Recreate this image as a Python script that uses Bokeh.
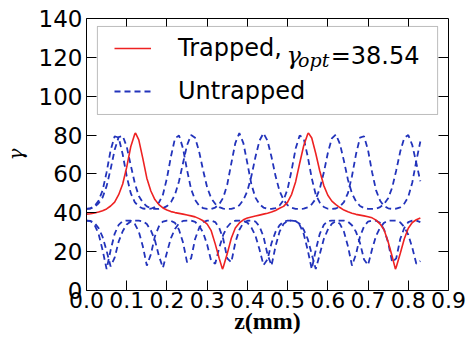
from bokeh.plotting import figure
from bokeh.models import (Range1d, FixedTicker, LinearAxis, Legend, LegendItem, Label,
                          PrintfTickFormatter, BoxAnnotation)
from bokeh.embed import file_html
from bokeh.resources import INLINE

# ---------------- data ----------------
z_grid = [0.00, 0.01, 0.02, 0.03, 0.04, 0.05, 0.06, 0.07, 0.08, 0.09,
          0.10, 0.11, 0.12, 0.13, 0.14, 0.15, 0.16, 0.17, 0.18, 0.19,
          0.20, 0.21, 0.22, 0.23, 0.24, 0.25, 0.26, 0.27, 0.28, 0.29,
          0.30, 0.31, 0.32, 0.33, 0.34, 0.35, 0.36, 0.37, 0.38, 0.39,
          0.40, 0.41, 0.42, 0.43, 0.44, 0.45, 0.46, 0.47, 0.48, 0.49,
          0.50, 0.51, 0.52, 0.53, 0.54, 0.55, 0.56, 0.57, 0.58, 0.59,
          0.60, 0.61, 0.62, 0.63, 0.64, 0.65, 0.66, 0.67, 0.68, 0.69,
          0.70, 0.71, 0.72, 0.73, 0.74, 0.75, 0.76, 0.77, 0.78, 0.79,
          0.80, 0.81, 0.82, 0.83]

untrapped_a = [42.0, 42.3, 43.4, 46.2, 51.5, 60.9, 72.2, 79.4, 78.7, 70.1,
               58.8, 50.1, 45.5, 43.2, 42.2, 42.0, 42.1, 43.0, 45.2, 49.3,
               57.8, 69.0, 78.3, 79.8, 73.1, 62.0, 52.2, 46.6, 43.7, 42.4,
               42.0, 42.0, 42.7, 44.4, 47.8, 54.6, 65.4, 75.9, 81.0, 75.9,
               65.4, 54.6, 47.8, 44.4, 42.7, 42.0, 42.0, 42.4, 43.7, 46.6,
               52.2, 62.0, 73.1, 79.8, 78.3, 69.0, 57.8, 49.3, 45.2, 43.0,
               42.1, 42.0, 42.2, 43.2, 45.5, 50.1, 58.8, 70.1, 78.7, 79.4,
               72.2, 60.9, 51.5, 46.2, 43.4, 42.3, 42.0, 42.1, 42.8, 44.7,
               48.2, 55.6, 66.7, 76.7]

untrapped_b = [42.0, 42.2, 43.0, 44.9, 47.9, 53.7, 62.5, 72.4, 79.0, 79.6,
               74.0, 64.5, 55.3, 48.6, 45.3, 43.3, 42.3, 42.0, 42.0, 42.4,
               43.4, 45.5, 49.3, 56.2, 65.6, 74.8, 80.0, 78.6, 71.5, 61.8,
               53.0, 47.5, 44.6, 42.9, 42.1, 42.0, 42.0, 42.6, 43.9, 46.6,
               51.2, 58.9, 68.7, 77.1, 81.0, 77.1, 68.7, 58.9, 51.2, 46.6,
               43.9, 42.6, 42.0, 42.0, 42.1, 42.8, 44.4, 47.2, 52.4, 60.7,
               70.8, 78.3, 80.3, 75.5, 66.7, 57.0, 49.9, 45.9, 43.5, 42.4,
               42.0, 42.0, 42.1, 42.9, 44.6, 47.5, 53.0, 61.8, 71.5, 78.6,
               80.0, 74.8, 65.6, 56.2]

untrapped_c = [36.0, 35.8, 34.7, 32.1, 27.6, 20.4, 12.4, 16.9, 25.2, 30.5,
               34.0, 35.5, 36.0, 36.0, 35.6, 34.2, 30.9, 26.0, 17.8, 11.7,
               19.6, 27.0, 31.7, 34.6, 35.8, 36.0, 36.0, 35.3, 33.3, 29.8,
               23.6, 15.2, 13.8, 22.0, 28.7, 32.7, 35.1, 35.9, 36.0, 35.9,
               34.9, 32.4, 28.2, 21.2, 13.1, 16.0, 24.4, 30.2, 33.6, 35.4,
               36.0, 36.0, 35.7, 34.4, 31.3, 26.5, 18.7, 11.0, 18.7, 26.5,
               31.3, 34.4, 35.7, 36.0, 36.0, 35.4, 33.6, 30.2, 24.4, 16.0,
               13.1, 21.2, 28.2, 32.4, 34.9, 35.9, 36.0, 35.9, 35.1, 32.7,
               28.7, 22.0, 13.8, 15.2]

untrapped_d = [36.0, 35.7, 33.8, 29.2, 20.8, 11.0, 20.8, 29.2, 33.8, 35.7,
               36.0, 35.9, 34.3, 30.3, 22.8, 12.8, 18.6, 27.8, 33.0, 35.5,
               36.0, 35.9, 34.8, 31.3, 24.7, 14.5, 16.5, 26.5, 32.2, 35.2,
               36.0, 36.0, 35.2, 32.2, 26.5, 16.5, 14.5, 24.7, 31.3, 34.8,
               35.9, 36.0, 35.5, 33.0, 27.8, 18.6, 12.8, 22.8, 30.3, 34.3,
               35.9, 36.0, 35.7, 33.8, 29.2, 20.8, 11.0, 20.8, 29.2, 33.8,
               35.7, 36.0, 35.9, 34.3, 30.3, 22.8, 12.8, 18.6, 27.8, 33.0,
               35.5, 36.0, 35.9, 34.8, 31.3, 24.7, 14.5, 16.5, 26.5, 32.2,
               35.2, 36.0, 36.0, 35.2]

z_trapped = [0.00, 0.01, 0.02, 0.03, 0.04, 0.05, 0.06, 0.07, 0.08, 0.09,
             0.10, 0.11, 0.12, 0.122, 0.13, 0.14, 0.15, 0.16, 0.17, 0.18, 0.19,
             0.20, 0.21, 0.22, 0.23, 0.24, 0.25, 0.26, 0.27, 0.28, 0.29,
             0.30, 0.31, 0.32, 0.33, 0.338, 0.34, 0.35, 0.36, 0.37, 0.38, 0.39,
             0.40, 0.41, 0.42, 0.43, 0.44, 0.45, 0.46, 0.47, 0.48, 0.49,
             0.50, 0.51, 0.52, 0.53, 0.54, 0.55, 0.552, 0.56, 0.57, 0.58, 0.59,
             0.60, 0.61, 0.62, 0.63, 0.64, 0.65, 0.66, 0.67, 0.68, 0.69,
             0.70, 0.71, 0.72, 0.73, 0.74, 0.75, 0.76, 0.768, 0.77, 0.78, 0.79,
             0.80, 0.81, 0.82, 0.83]
gamma_trapped = [39.3, 39.5, 39.9, 40.4, 41.1, 42.0, 43.5, 45.5, 49.3, 54.8,
                 63.5, 74.0, 80.5, 81.0, 77.5, 68.0, 57.8, 51.2, 46.8, 44.2, 42.5,
                 41.4, 40.6, 40.1, 39.7, 39.3, 38.9, 38.4, 37.9, 37.0, 35.9,
                 34.2, 30.8, 24.0, 16.5, 11.0, 12.0, 19.0, 26.9, 32.2, 34.8, 36.4,
                 37.3, 37.8, 38.3, 38.8, 39.3, 39.8, 40.4, 41.2, 42.3, 43.3,
                 45.5, 49.5, 56.0, 65.5, 74.5, 80.5, 81.0, 78.5, 70.5, 61.5, 54.0,
                 49.0, 46.0, 44.2, 42.7, 41.4, 40.5, 39.8, 39.2, 38.8, 38.4,
                 38.0, 37.4, 36.2, 34.2, 31.2, 25.0, 17.5, 11.0, 12.0, 19.0, 26.5,
                 32.0, 35.0, 36.4, 37.3]

x_ticks = [0.0, 0.1, 0.2, 0.3, 0.4, 0.5, 0.6, 0.7, 0.8, 0.9]
y_ticks = [0, 20, 40, 60, 80, 100, 120, 140]
top_ticks = [0.1, 0.2, 0.3, 0.4, 0.5, 0.6, 0.7, 0.8]
right_ticks = [20, 40, 60, 80, 100, 120]

legend_labels = ["Trapped,", "Untrapped"]

RED = "#ee2222"
BLUE = "#2233bb"

# ---------------- figure ----------------
p = figure(width=470, height=341, x_range=Range1d(0, 0.9), y_range=Range1d(0, 140),
           output_backend="svg", toolbar_location=None,
           min_border_left=83, min_border_right=22, min_border_top=18, min_border_bottom=51,
           x_axis_label="z(mm)", y_axis_label="γ")
p.grid.visible = False
p.outline_line_color = None
p.background_fill_color = "white"
p.border_fill_color = "white"

xa = p.xaxis[0]
xa.ticker = FixedTicker(ticks=x_ticks)
xa.formatter = PrintfTickFormatter(format="%.1f")
xa.major_tick_in = 10
xa.major_tick_out = 0
xa.minor_tick_line_color = None
xa.axis_line_color = "black"
xa.major_tick_line_color = "black"
xa.major_label_text_font = "DejaVu Sans"
xa.major_label_text_font_size = "22px"
xa.major_label_text_color = "black"
xa.major_label_standoff = 1
xa.axis_label_text_font = "Liberation Serif"
xa.axis_label_text_font_style = "bold"
xa.axis_label_text_font_size = "24px"
xa.axis_label_text_color = "black"
xa.axis_label_standoff = -3

ya = p.yaxis[0]
ya.ticker = FixedTicker(ticks=y_ticks)
ya.formatter = PrintfTickFormatter(format="%d")
ya.major_tick_in = 10
ya.major_tick_out = 0
ya.minor_tick_line_color = None
ya.axis_line_color = "black"
ya.major_tick_line_color = "black"
ya.major_label_text_font = "DejaVu Sans"
ya.major_label_text_font_size = "23px"
ya.major_label_text_color = "black"
ya.major_label_standoff = 4
ya.axis_label_text_font = "DejaVu Serif"
ya.axis_label_text_font_style = "italic"
ya.axis_label_text_font_size = "20px"
ya.axis_label_text_color = "black"
ya.axis_label_standoff = 8

top = LinearAxis(ticker=FixedTicker(ticks=top_ticks), major_tick_in=8, major_tick_out=0,
                 minor_tick_line_color=None, axis_line_color="black",
                 major_label_text_font_size="0px", major_label_text_color=None,
                 major_label_standoff=0)
right = LinearAxis(ticker=FixedTicker(ticks=right_ticks), major_tick_in=10, major_tick_out=0,
                   minor_tick_line_color=None, axis_line_color="black",
                   major_label_text_font_size="0px", major_label_text_color=None,
                   major_label_standoff=0)
p.add_layout(top, "above")
p.add_layout(right, "right")

# legend frame (white box, beneath the curves' layer)
p.add_layout(BoxAnnotation(left=0.0271, right=0.8729, bottom=90.6, top=135.9,
                           fill_color="white", fill_alpha=1.0,
                           line_color="#222222", line_width=1, level="underlay"))

# ---------------- lines ----------------
dash_kw = dict(line_color=BLUE, line_width=1.8, line_dash="6 4")
r_a = p.line(z_grid, untrapped_a, **dash_kw)
r_b = p.line(z_grid, untrapped_b, **dash_kw)
r_c = p.line(z_grid, untrapped_c, **dash_kw)
r_d = p.line(z_grid, untrapped_d, **dash_kw)
r_red = p.line(z_trapped, gamma_trapped, line_color=RED, line_width=1.6)

# ---------------- legend ----------------
legend = Legend(items=[LegendItem(label=legend_labels[0], renderers=[r_red]),
                       LegendItem(label=legend_labels[1], renderers=[r_a])],
                location=(28, 185), padding=0, spacing=15,
                glyph_width=37, glyph_height=28, label_height=28,
                label_standoff=27, label_width=200,
                label_text_font="DejaVu Sans", label_text_font_size="24px",
                label_text_color="black",
                border_line_color=None, background_fill_alpha=0.0,
                margin=0)
p.add_layout(legend)

# gamma_opt part of the first legend entry
math_parts = [("γ", 0.497, 120.9, "DejaVu Serif", "italic", "24px"),
              ("opt", 0.526, 118.4, "DejaVu Serif", "italic", "19px"),
              ("=38.54", 0.607, 120.9, "DejaVu Sans", "normal", "24px")]
for txt, lx, ly, fnt, sty, sz in math_parts:
    p.add_layout(Label(x=lx, y=ly, text=txt, text_font=fnt, text_font_style=sty,
                       text_font_size=sz, text_align="left", text_baseline="alphabetic",
                       text_color="black"))

open("out.html", "w").write(file_html(p, INLINE))
